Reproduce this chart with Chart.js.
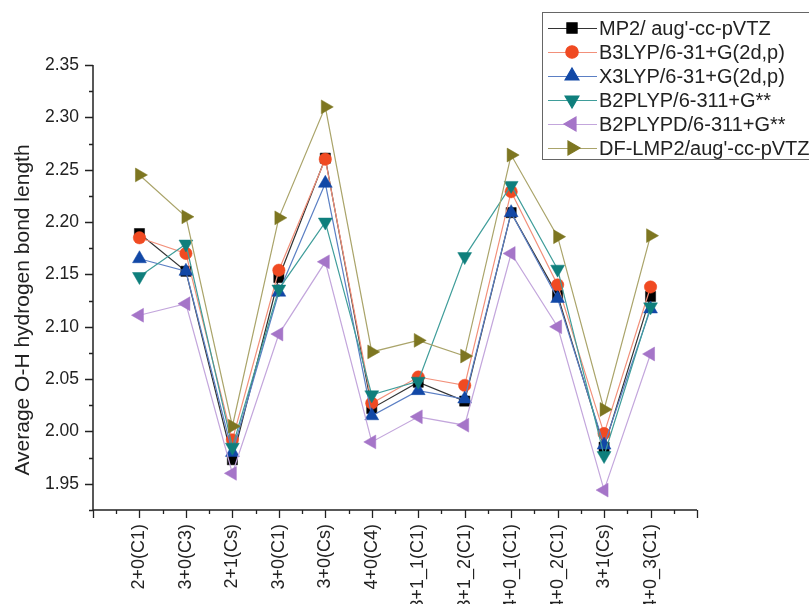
<!DOCTYPE html>
<html><head><meta charset="utf-8">
<script src="https://cdn.jsdelivr.net/npm/chart.js@4.4.1/dist/chart.umd.min.js"></script>
<style>html,body{margin:0;padding:0;background:#fff;overflow:hidden}#wrap{width:809px;height:604px;position:relative}</style>
</head><body><div id="wrap"><canvas id="c" width="809" height="604"></canvas></div>
<script>
const categories = ["2+0(C1)","3+0(C3)","2+1(Cs)","3+0(C1)","3+0(Cs)","4+0(C4)","3+1_1(C1)","3+1_2(C1)","4+0_1(C1)","4+0_2(C1)","3+1(Cs)","4+0_3(C1)"];
const seriesNames = ["MP2/ aug'-cc-pVTZ","B3LYP/6-31+G(2d,p)","X3LYP/6-31+G(2d,p)","B2PLYP/6-311+G**","B2PLYPD/6-311+G**","DF-LMP2/aug'-cc-pVTZ"];
const mp2     = [2.189,2.153,1.973,2.147,2.261,2.022,2.047,2.029,2.209,2.130,1.985,2.129];
const b3lyp   = [2.185,2.170,1.992,2.154,2.260,2.027,2.052,2.044,2.229,2.140,1.998,2.138];
const x3lyp   = [2.165,2.153,1.980,2.133,2.237,2.015,2.039,2.031,2.209,2.127,1.987,2.117];
const b2plyp  = [2.148,2.179,1.985,2.136,2.200,2.035,2.048,2.167,2.235,2.155,1.977,2.119];
const b2plypd = [2.111,2.122,1.960,2.093,2.162,1.990,2.014,2.006,2.170,2.100,1.944,2.074];
const dflmp2  = [2.245,2.205,2.005,2.204,2.310,2.076,2.087,2.072,2.264,2.186,2.021,2.187];
const yTickLabels = ["1.95","2.00","2.05","2.10","2.15","2.20","2.25","2.30","2.35"];

const seriesValues = [mp2,b3lyp,x3lyp,b2plyp,b2plypd,dflmp2];
const markerColors = ["#000000","#f04a22","#1248a6","#0f7f7c","#a575c8","#7d7621"];
const lineColors   = ["#333333","#f2907a","#5b7fc4","#3f9d9a","#c3a6dc","#aaa46a"];
const pointStyles  = ["rect","circle","triangle","triangle","triangle","triangle"];
const rotations    = [0,0,0,180,270,90];
const radii        = [7.2,6.2,8,8,8,8];
const FONT = "'Liberation Sans', Arial, sans-serif";

const datasets = seriesValues.map((vals,i)=>({
  label: seriesNames[i],
  data: vals.map((v,j)=>({x:j+1,y:v})),
  borderColor: lineColors[i],
  borderWidth: 1.2,
  backgroundColor: markerColors[i],
  pointBackgroundColor: markerColors[i],
  pointBorderColor: markerColors[i],
  pointBorderWidth: 0.5,
  pointStyle: pointStyles[i],
  pointRotation: rotations[i],
  pointRadius: radii[i],
  pointHoverRadius: radii[i],
  tension: 0,
  fill: false,
  order: 5 - i
}));

const axisPlugin = {
  id: 'axisPlugin',
  afterDraw(chart) {
    const ctx = chart.ctx, xs = chart.scales.x, ys = chart.scales.y, a = chart.chartArea;
    ctx.save();
    ctx.strokeStyle = '#222';
    ctx.lineWidth = 1.5;
    ctx.beginPath();
    ctx.moveTo(a.left, a.top); ctx.lineTo(a.left, a.bottom); ctx.lineTo(a.right, a.bottom);
    ctx.stroke();
    ctx.lineWidth = 1.3;
    ctx.beginPath();
    for (let k = 0; k <= 17; k++) {
      const v = 1.925 + k*0.025;
      const y = Math.round(ys.getPixelForValue(v)) + 0.5;
      const len = (k % 2 === 1) ? 8 : 4;
      ctx.moveTo(a.left, y); ctx.lineTo(a.left - len, y);
    }
    for (let k = 0; k <= 26; k++) {
      const v = k*0.5;
      const x = Math.round(xs.getPixelForValue(v)) + 0.5;
      const len = (k % 2 === 0) ? 8 : 4;
      ctx.moveTo(x, a.bottom); ctx.lineTo(x, a.bottom + len);
    }
    ctx.stroke();
    // y title
    ctx.fillStyle = '#222';
    ctx.font = '21px ' + FONT;
    ctx.textAlign = 'center';
    ctx.textBaseline = 'middle';
    ctx.translate(23, 310);
    ctx.rotate(-Math.PI/2);
    ctx.fillText('Average O-H hydrogen bond length', 0, 0);
    ctx.restore();
    // legend
    ctx.save();
    ctx.fillStyle = '#fff';
    ctx.fillRect(542, 12, 280, 148);
    ctx.strokeStyle = '#666';
    ctx.lineWidth = 1;
    ctx.strokeRect(542.5, 12.5, 280, 147);
    seriesNames.forEach((name,i)=>{
      const y = 28 + i*24;
      ctx.strokeStyle = lineColors[i];
      ctx.lineWidth = 1.2;
      ctx.beginPath(); ctx.moveTo(548, y+0.5); ctx.lineTo(597, y+0.5); ctx.stroke();
      ctx.fillStyle = markerColors[i];
      ctx.strokeStyle = markerColors[i];
      Chart.helpers.drawPoint(ctx, {pointStyle: pointStyles[i], radius: radii[i], rotation: rotations[i], borderWidth: 0.5}, 572, y);
      ctx.fillStyle = '#222';
      ctx.font = '20px ' + FONT;
      ctx.textAlign = 'left';
      ctx.textBaseline = 'middle';
      ctx.fillText(name, 599, y+1);
    });
    ctx.restore();
  }
};

new Chart(document.getElementById('c'), {
  type: 'line',
  data: { datasets },
  options: {
    responsive: false,
    animation: false,
    devicePixelRatio: 1,
    layout: { padding: { left: 0, right: 112, top: 65, bottom: 0 } },
    plugins: { legend: { display: false }, tooltip: { enabled: false } },
    scales: {
      x: {
        type: 'linear', min: 0, max: 13,
        grid: { display: false, drawTicks: false },
        border: { display: false },
        afterFit(s) { s.height = 94; },
        afterBuildTicks(s) { s.ticks = []; for (let k = 1; k <= 12; k++) s.ticks.push({value:k}); },
        ticks: {
          autoSkip: false, minRotation: 90, maxRotation: 90, padding: 14,
          color: '#222', font: { family: FONT, size: 18 },
          callback: (v) => categories[Math.round(v)-1] || ''
        }
      },
      y: {
        type: 'linear', min: 1.925, max: 2.35,
        grid: { display: false, drawTicks: false },
        border: { display: false },
        afterFit(s) { s.width = 93; },
        afterBuildTicks(s) { s.ticks = yTickLabels.map(t=>({value: parseFloat(t)})); },
        ticks: {
          padding: 14, color: '#222', font: { family: FONT, size: 17.5 },
          callback: (v) => { const i = yTickLabels.findIndex(t=>Math.abs(parseFloat(t)-v)<1e-6); return i>=0 ? yTickLabels[i] : ''; }
        }
      }
    }
  },
  plugins: [axisPlugin]
});
</script></body></html>
